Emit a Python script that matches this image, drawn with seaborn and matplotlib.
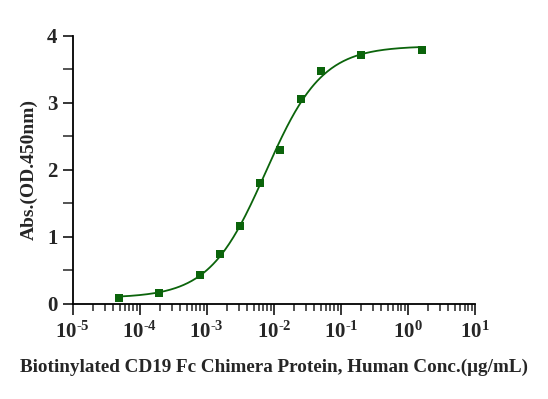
"""
Courbe ELISA : absorbance en fonction de la concentration (échelle log)
"""
import numpy as np
import pandas as pd
import matplotlib
matplotlib.use("Agg")
import matplotlib.pyplot as plt
import seaborn as sns
from matplotlib.ticker import FixedLocator, LogLocator, MultipleLocator, FuncFormatter


# Données
concentration = [0.0000488, 0.000195, 0.00078, 0.00156, 0.003125, 0.00625,
                 0.0125, 0.025, 0.05, 0.2, 1.6]
absorbance = [0.085, 0.16, 0.44, 0.75, 1.17, 1.81, 2.30, 3.06, 3.48, 3.71, 3.79]
x_ticks = [1e-5, 1e-4, 1e-3, 1e-2, 1e-1, 1e0, 1e1]
y_ticks = [0, 1, 2, 3, 4]

x_label = "Biotinylated CD19 Fc Chimera Protein, Human Conc.(\u03bcg/mL)"
y_label = "Abs.(OD.450nm)"
vert = "#0b640b"


def logistique_4p(x, bas, haut, ec50, pente):
    return bas + (haut - bas) / (1 + (ec50 / x) ** pente)


def ajuster_4pl(x, y, p0, n_iter=200):
    """Ajustement 4PL simple par Levenberg-Marquardt maison (sans scipy)."""
    p = np.array(p0, dtype=float)
    lx = np.log10(x)

    def modele(q):
        bas, haut, log_ec50, pente = q
        return bas + (haut - bas) / (1 + 10 ** ((log_ec50 - lx) * pente))

    lam = 1e-3
    for _ in range(n_iter):
        r = y - modele(p)
        J = np.zeros((len(x), 4))
        for k in range(4):
            dp = np.zeros(4)
            dp[k] = 1e-6
            J[:, k] = (modele(p + dp) - modele(p)) / 1e-6
        A = J.T @ J + lam * np.eye(4)
        step = np.linalg.solve(A, J.T @ r)
        p_new = p + step
        if np.sum((y - modele(p_new)) ** 2) < np.sum(r ** 2):
            p = p_new
            lam *= 0.5
        else:
            lam *= 5
    return p[0], p[1], 10 ** p[2], p[3]


df = pd.DataFrame({"conc": concentration, "abs": absorbance})
bas, haut, ec50, pente = ajuster_4pl(df["conc"].values, df["abs"].values,
                                     [0.1, 3.85, np.log10(0.007), 1.1])
x_fit = np.logspace(np.log10(df["conc"].min()), np.log10(df["conc"].max()), 300)
df_fit = pd.DataFrame({"conc": x_fit,
                       "abs": logistique_4p(x_fit, bas, haut, ec50, pente)})

sns.set_style("ticks")
plt.rcParams["font.family"] = ["Liberation Serif", "DejaVu Serif"]
plt.rcParams["font.weight"] = "bold"
plt.rcParams["mathtext.fontset"] = "custom"
plt.rcParams["mathtext.rm"] = "Liberation Serif:bold"
plt.rcParams["mathtext.bf"] = "Liberation Serif:bold"

fig = plt.figure(figsize=(5.48, 3.99), dpi=100)
# axe x de 72.7 à 475 px, axe y de 304 à 36 px
ax = fig.add_axes([0.1327, 0.2381, 0.734, 0.6717])

sns.lineplot(data=df_fit, x="conc", y="abs", ax=ax, color=vert, linewidth=1.3)
sns.scatterplot(data=df, x="conc", y="abs", ax=ax, marker="s", s=28,
                color=vert, edgecolor=vert, linewidth=0, zorder=3)

ax.set_xscale("log")
ax.set_xlim(1e-5, 1e1)
ax.set_ylim(0, 4)
ax.xaxis.set_major_locator(FixedLocator(x_ticks))
ax.xaxis.set_minor_locator(LogLocator(base=10, subs=np.arange(2, 10), numticks=20))
ax.xaxis.set_major_formatter(FuncFormatter(
    lambda v, pos: r"$\mathbf{10^{\text{-}%d}}$" % abs(int(round(np.log10(v))))
    if v < 1 else r"$\mathbf{10^{%d}}$" % int(round(np.log10(v)))))
ax.yaxis.set_major_locator(FixedLocator(y_ticks))
ax.yaxis.set_minor_locator(MultipleLocator(0.5))

sns.despine(ax=ax)
for s in ["left", "bottom"]:
    ax.spines[s].set_linewidth(1.3)
    ax.spines[s].set_color("black")

ax.tick_params(axis="x", which="major", length=8, width=1.3, labelsize=15, pad=5)
ax.tick_params(axis="x", which="minor", length=5, width=1.1)
ax.tick_params(axis="y", which="major", length=7, width=1.3, labelsize=15, pad=4)
ax.tick_params(axis="y", which="minor", length=7, width=1.1)
for lab in ax.get_yticklabels():
    lab.set_fontweight("bold")

ax.set_xlabel(x_label, fontsize=13.8, fontweight="bold")
ax.xaxis.set_label_coords(0.5, -0.205)
ax.set_ylabel(y_label, fontsize=14, fontweight="bold")
ax.yaxis.set_label_coords(-0.088, 0.5)

fig.savefig("out.png", dpi=100)
